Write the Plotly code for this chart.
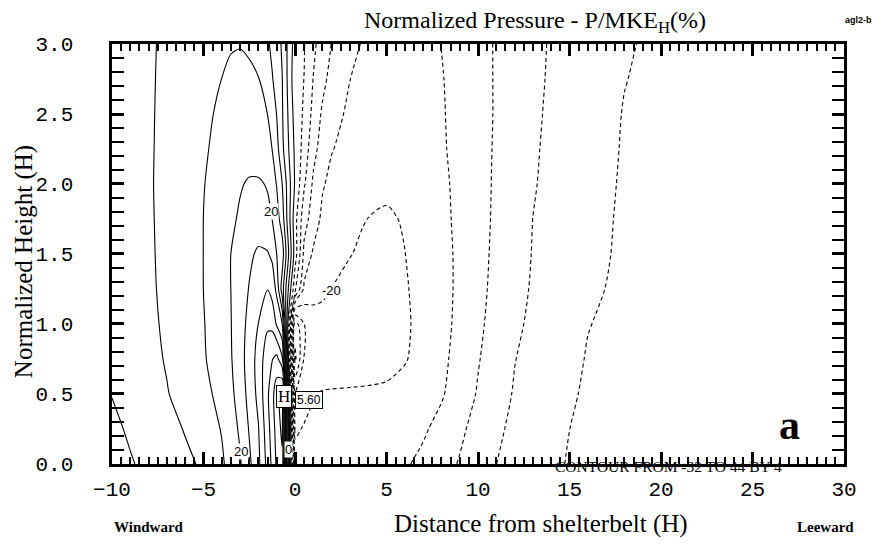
import plotly.graph_objects as go

# ---- data (P/MKE_H in %) ----
x_dist = [-10, -9, -8, -7, -6, -5, -4, -3.5, -3, -2.5, -2, -1.5, -1.25, -1, -0.7,
          0, 0.5, 1, 1.5, 2, 3, 4, 5, 6, 7, 8, 9, 10, 11, 12, 13, 14, 16, 18, 20, 25, 30]
y_height = [0, 0.25, 0.5, 0.75, 1.0, 1.25, 1.5, 1.75, 2.0, 2.25, 2.5, 2.75, 3.0]

p_y000 = [6.5, 7.7, 8.9, 10.1, 11.3, 12.5, 15.5, 17.3, 19.6, 23.2, 27.0, 33.4, 36.9, 40.7, 43.0,
          -18.5, -18.4, -18.2, -18.0, -17.8, -17.5, -17.2, -16.9, -16.4, -15.15, -13.45, -11.72, -9.86,
          -8.02, -6.82, -5.65, -4.47, -3.2, -2.6, -2.2, -1.5, -1.0]
p_y025 = [7.2, 8.5, 9.7, 10.9, 12.2, 14.1, 16.2, 18.3, 20.6, 24.3, 27.8, 34.4, 37.9, 41.6, 45.0,
          -20.6, -19.7, -19.3, -19.0, -18.7, -18.3, -17.9, -17.4, -16.9, -16.5, -14.84, -12.74, -10.67,
          -8.72, -7.15, -5.94, -4.73, -3.3, -2.7, -2.3, -1.6, -1.1]
p_y050 = [8.1, 9.3, 10.5, 11.8, 13.4, 14.9, 17.2, 19.1, 21.8, 25.3, 29.1, 35.3, 38.7, 42.4, 45.6,
          -23.5, -21.5, -20.2, -19.8, -19.75, -19.7, -19.65, -19.5, -18.5, -17.0, -16.4, -14.06, -11.68,
          -9.58, -7.7, -6.48, -5.27, -3.55, -2.9, -2.45, -1.7, -1.2]
p_y075 = [8.8, 9.8, 10.9, 12.3, 14.0, 15.6, 18.2, 19.7, 22.5, 25.7, 29.5, 34.5, 35.8, 37.2, 33.0,
          -33.0, -23.5, -22.0, -21.7, -21.5, -21.3, -21.1, -20.9, -20.3, -18.47, -16.83, -14.75, -12.25,
          -10.15, -8.1, -6.93, -5.8, -3.8, -3.0, -2.55, -1.8, -1.3]
p_y100 = [9.2, 10.1, 11.2, 12.6, 14.2, 15.8, 18.5, 19.9, 22.4, 25.1, 28.05, 31.3, 31.0, 27.5, 24.0,
          -30.0, -24.0, -21.8, -21.3, -21.2, -21.3, -21.4, -21.2, -20.6, -18.8, -17.1, -15.15, -12.73,
          -10.63, -8.7, -7.3, -6.24, -4.1, -3.2, -2.7, -1.9, -1.35]
p_y125 = [9.5, 10.3, 11.4, 12.8, 14.4, 16.02, 18.7, 20.02, 22.1, 24.2, 26.6, 27.9, 26.5, 23.0, 14.0,
          -7.0, -16.8, -18.5, -19.3, -20.05, -20.8, -21.2, -21.0, -20.3, -18.95, -17.2, -15.31, -13.03,
          -11.0, -9.2, -7.64, -6.6, -4.52, -3.4, -2.85, -2.0, -1.4]
p_y150 = [9.7, 10.5, 11.5, 12.9, 14.5, 16.02, 18.7, 20.02, 21.7, 23.3, 24.6, 24.3, 23.2, 19.98, 18.0,
          -2.0, -13.0, -16.6, -18.2, -18.9, -19.9, -20.6, -20.6, -20.05, -18.6, -17.1, -15.35, -13.19,
          -11.22, -9.5, -7.85, -6.85, -4.85, -3.5, -2.95, -2.05, -1.45]
p_y175 = [9.9, 10.6, 11.6, 12.9, 14.5, 16.02, 18.2, 19.3, 20.5, 21.5, 21.8, 21.0, 19.98, 17.8, 14.0,
          -2.5, -10.5, -13.8, -16.9, -17.8, -19.0, -20.05, -20.5, -19.7, -18.0, -16.8, -15.3, -13.3,
          -11.4, -9.7, -7.98, -7.0, -5.05, -3.55, -3.0, -2.1, -1.5]
p_y200 = [10.0, 10.7, 11.7, 12.8, 14.3, 15.85, 17.8, 18.7, 19.7, 20.4, 20.5, 19.7, 18.0, 15.8, 12.02,
          -0.5, -7.5, -12.7, -15.6, -17.0, -18.2, -18.9, -19.2, -18.9, -17.9, -16.7, -15.16, -13.3,
          -11.5, -9.9, -8.25, -7.18, -5.25, -3.65, -3.05, -2.15, -1.55]
p_y225 = [10.1, 10.8, 11.7, 12.7, 14.1, 15.6, 17.0, 17.7, 18.3, 18.4, 17.8, 16.9, 15.98, 13.4, 9.0,
          -0.8, -5.6, -10.8, -13.6, -15.8, -17.4, -18.4, -18.6, -18.3, -17.4, -16.4, -15.04, -13.3,
          -11.6, -10.1, -8.4, -7.34, -5.46, -3.75, -3.1, -2.2, -1.6]
p_y250 = [10.3, 10.9, 11.7, 12.6, 13.9, 15.3, 16.6, 17.1, 17.3, 17.2, 16.7, 15.98, 14.0, 11.9, 8.4,
          -1.6, -4.6, -9.2, -12.6, -14.5, -16.8, -18.1, -18.1, -17.8, -17.0, -16.3, -14.94, -13.3,
          -11.7, -10.3, -8.55, -7.5, -5.66, -3.85, -3.15, -2.25, -1.65]
p_y275 = [10.5, 11.0, 11.7, 12.5, 13.6, 14.8, 16.02, 16.5, 16.6, 16.4, 16.1, 14.3, 12.3, 10.4, 8.1,
          -2.6, -4.05, -8.1, -10.9, -13.3, -15.95, -17.6, -17.6, -17.3, -16.7, -16.2, -14.77, -13.23,
          -11.71, -10.5, -8.7, -7.64, -5.87, -4.09, -3.2, -2.3, -1.7]
p_y300 = [10.6, 11.1, 11.7, 12.4, 13.4, 14.5, 15.4, 15.8, 15.9, 15.7, 14.9, 12.6, 11.1, 9.7, 7.5,
          -1.8, -3.8, -7.2, -9.8, -12.1, -15.2, -16.6, -17.2, -16.9, -16.5, -15.98, -14.57, -13.14,
          -11.72, -10.6, -8.8, -7.74, -6.04, -4.34, -3.3, -2.35, -1.75]

pressure = [p_y000, p_y025, p_y050, p_y075, p_y100, p_y125, p_y150,
            p_y175, p_y200, p_y225, p_y250, p_y275, p_y300]

contour_min, contour_max, contour_step = -32, 44, 4
x_range = [-10, 30]
y_range = [0, 3]

# ---- figure ----
fig = go.Figure()
fig.add_trace(go.Contour(
    x=x_dist, y=y_height, z=pressure, autocontour=False,
    contours=dict(start=0, end=contour_max, size=contour_step, coloring="none"),
    line=dict(color="black", width=1.1, smoothing=0.8),
    showscale=False, hoverinfo="skip"))
fig.add_trace(go.Contour(
    x=x_dist, y=y_height, z=pressure, autocontour=False,
    contours=dict(start=contour_min, end=-contour_step, size=contour_step, coloring="none"),
    line=dict(color="black", width=1.1, dash="4px,3px", smoothing=0.8),
    showscale=False, hoverinfo="skip"))
# empty trace on a label-only x axis placed a little below the frame
fig.add_trace(go.Scatter(x=[], y=[], xaxis="x2", yaxis="y", showlegend=False, hoverinfo="skip"))

tick_font = dict(family="Liberation Mono", size=21, color="black")
serif = "Liberation Serif"
NB = "\u00a0"

# the page body adds an 8 px offset, so margins are shifted to keep the plot frame in place
fig.update_layout(
    width=886, height=548,
    margin=dict(l=104, r=50, t=36, b=82),
    paper_bgcolor="white", plot_bgcolor="white",
    showlegend=False,
    xaxis=dict(range=x_range, tickmode="linear", tick0=-10, dtick=5, ticks="inside", ticklen=12,
               tickwidth=2.5, tickcolor="black", showline=True, linewidth=2.5, linecolor="black",
               mirror="allticks", showgrid=False, zeroline=False, showticklabels=False,
               minor=dict(dtick=0.5, ticks="inside", ticklen=7, tickwidth=2, tickcolor="black")),
    xaxis2=dict(range=x_range, tickmode="linear", tick0=-10, dtick=5, overlaying="x",
                anchor="free", position=0, side="bottom", ticks="", showline=False,
                showgrid=False, zeroline=False, tickfont=tick_font),
    yaxis=dict(range=y_range, domain=[0.0233, 1], tickmode="linear", tick0=0, dtick=0.5,
               tickformat=".1f", ticksuffix=NB * 2 + "<span style='font-size:11px'>" + NB + "</span>",
               ticks="inside", ticklen=12, tickwidth=2.5,
               tickcolor="black", showline=True, linewidth=2.5, linecolor="black",
               mirror="allticks", showgrid=False, zeroline=False, tickfont=tick_font,
               minor=dict(dtick=0.1, ticks="inside", ticklen=7, tickwidth=2, tickcolor="black")),
)

ann = []
def add_text(text, x, y, size, family=serif, xref="paper", yref="paper", angle=0,
             bg=None, border=None, xanchor="center"):
    d = dict(text=text, x=x, y=y, xref=xref, yref=yref, showarrow=False, textangle=angle,
             font=dict(family=family, size=size, color="black"), xanchor=xanchor, yanchor="middle")
    if bg:
        d["bgcolor"] = bg
        d["borderpad"] = 0
    if border:
        d["bordercolor"] = border
        d["borderwidth"] = 1
        d["borderpad"] = 1
    ann.append(d)

add_text("Normalized Pressure - P/MKE<sub>H</sub>(%)", 0.578, 1.051, 24)
add_text("<b>agl2-b</b>", 1.02, 1.0557, 9, family="Liberation Sans")
add_text("Distance from shelterbelt (H)", 0.586, -0.1164, 25)
add_text("Normalized Height (H)", -0.12, 0.493, 25, angle=-90)
add_text("<b>Windward</b>", 0.05, -0.1233, 15)
add_text("<b>Leeward</b>", 0.975, -0.1233, 15)
add_text("CONTOUR FROM -32 TO 44 BY 4", 0.760, 0.0165, 15.5)
add_text("<b>a</b>", 0.926, 0.1142, 42)
# contour labels
lab = "Liberation Sans"
add_text("20", -1.31, 1.8, 13, family=lab, xref="x", yref="y", bg="white")
add_text("20", -2.95, 0.09, 13, family=lab, xref="x", yref="y", bg="white")
add_text("-20", 2.0, 1.24, 13, family=lab, xref="x", yref="y", bg="white")
add_text("0", -0.38, 0.1, 13, family=lab, xref="x", yref="y", bg="white")
# high marker
add_text("H", -0.6, 0.48, 17, xref="x", yref="y", bg="white", border="black")
add_text("5.60", 0.75, 0.46, 12, family=lab, xref="x", yref="y", bg="white", border="black")
fig.update_layout(annotations=ann)

fig.write_html("out.html")
